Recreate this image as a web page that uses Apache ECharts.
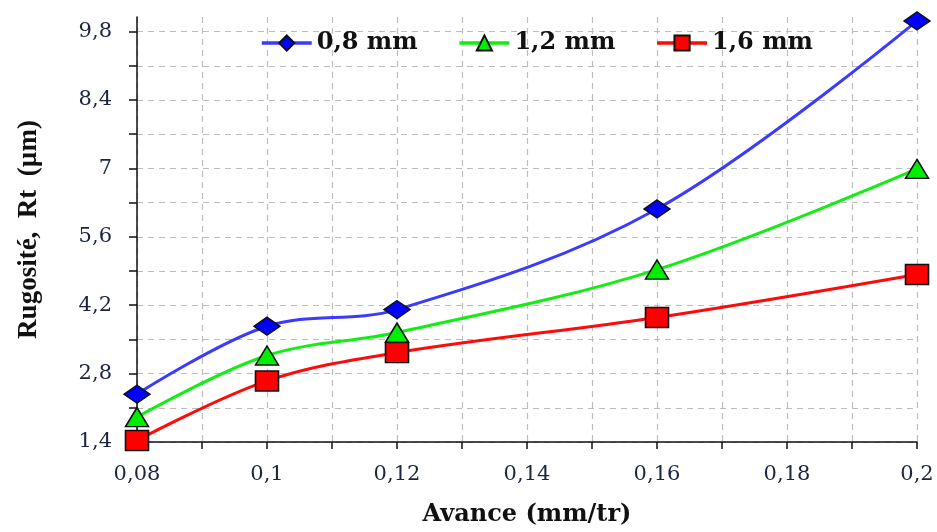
<!DOCTYPE html>
<html>
<head>
<meta charset="utf-8">
<script src="https://cdn.jsdelivr.net/npm/echarts@6/dist/echarts.min.js"></script>
<style>
  html, body { margin: 0; padding: 0; background: #fff; }
  #chart { width: 937px; height: 532px; }
</style>
</head>
<body>
<div id="chart"></div>
<script>
// avance (mm/tr)
const avance = [0.08, 0.1, 0.12, 0.16, 0.2];
// Rt (µm) pour chaque rayon de bec
const rt08 = [2.38, 3.77, 4.11, 6.17, 10.02];
const rt12 = [1.91, 3.17, 3.64, 4.93, 6.99];
const rt16 = [1.43, 2.65, 3.23, 3.95, 4.83];
const seriesNames = ['0,8 mm', '1,2 mm', '1,6 mm'];

const serif = '"Liberation Serif", "DejaVu Serif", serif';
const wideSerif = '"DejaVu Serif", "Liberation Serif", serif';
const labelColor = '#1c2440';

const toComma = v => String(+v.toFixed(2)).replace('.', ',');

function mkSeries(name, values, lineColor, fill, symbol, size) {
  return {
    name: name,
    type: 'line',
    smooth: 0.35,
    data: avance.map((x, i) => [x, values[i]]),
    symbol: symbol,
    symbolSize: size,
    lineStyle: { color: lineColor, width: 3 },
    itemStyle: { color: fill, borderColor: '#111', borderWidth: 1.5 },
    z: 3
  };
}

const chart = echarts.init(document.getElementById('chart'));
chart.setOption({
  animation: false,
  backgroundColor: '#fff',
  grid: { left: 137, right: 20, top: 17, bottom: 89 },
  legend: {
    top: 26,
    left: 255,
    itemGap: 40,
    itemWidth: 50,
    itemHeight: 19,
    lineStyle: { width: 3.5 },
    textStyle: { fontFamily: wideSerif, fontWeight: 'bold', fontSize: 24, color: '#111' },
    data: seriesNames
  },
  xAxis: {
    type: 'value',
    min: 0.08,
    max: 0.2,
    interval: 0.01,
    name: 'Avance (mm/tr)',
    nameLocation: 'middle',
    nameGap: 61,
    nameTextStyle: { fontFamily: wideSerif, fontWeight: 'bold', fontSize: 24, color: '#111' },
    axisLine: { lineStyle: { color: '#111', width: 1.5 } },
    axisTick: { show: true, inside: false, length: 7, lineStyle: { color: '#111', width: 1.5 } },
    axisLabel: {
      margin: 22,
      fontFamily: wideSerif,
      fontSize: 21,
      color: labelColor,
      formatter: v => (Math.round(v * 100) % 2 === 0 ? toComma(v) : '')
    },
    splitLine: { show: true, lineStyle: { color: '#bdbdbd', type: [6, 5], width: 1.2 } }
  },
  yAxis: {
    type: 'value',
    min: 1.4,
    max: 10.1,
    interval: 0.7,
    name: 'Rugosité,  Rt  (µm)',
    nameLocation: 'middle',
    nameGap: 94,
    nameRotate: 90,
    nameTextStyle: { fontFamily: serif, fontWeight: 'bold', fontSize: 27, color: '#111' },
    axisLine: { show: true, lineStyle: { color: '#111', width: 1.5 } },
    axisTick: { show: true, length: 8, lineStyle: { color: '#111', width: 1.5 } },
    axisLabel: {
      margin: 25,
      fontFamily: wideSerif,
      fontSize: 21,
      color: labelColor,
      showMaxLabel: false,
      formatter: v => {
        const k = Math.round(v / 0.7);
        return (k % 2 === 0 && Math.abs(v - k * 0.7) < 1e-6) ? toComma(v) : '';
      }
    },
    splitLine: { show: true, showMaxLine: false, lineStyle: { color: '#bdbdbd', type: [6, 5], width: 1.2 } }
  },
  series: [
    mkSeries(seriesNames[0], rt08, '#3b3bff', '#0000ff', 'diamond', [26, 18]),
    mkSeries(seriesNames[1], rt12, '#11ee11', '#00ee00', 'triangle', [23, 19]),
    mkSeries(seriesNames[2], rt16, '#ff0a0a', '#ff0000', 'rect', [23, 20])
  ]
});
</script>
</body>
</html>
